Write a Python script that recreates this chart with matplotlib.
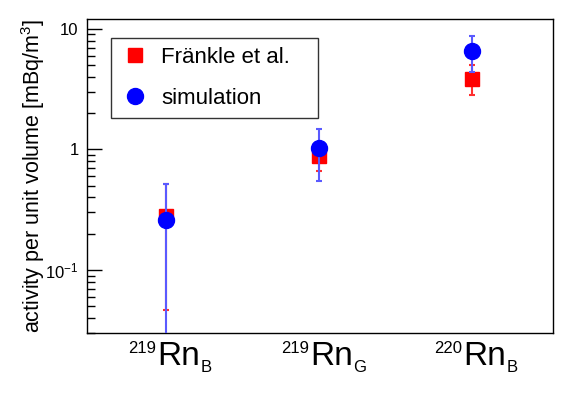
import matplotlib
matplotlib.use("Agg")
import matplotlib.pyplot as plt
import matplotlib.transforms as mtransforms
from matplotlib.lines import Line2D
import numpy as np

plt.rcParams['font.family'] = ['Liberation Sans', 'DejaVu Sans']
plt.rcParams['mathtext.fontset'] = 'custom'
plt.rcParams['mathtext.rm'] = 'Liberation Sans'
plt.rcParams['mathtext.it'] = 'Liberation Sans:italic'
plt.rcParams['mathtext.default'] = 'regular'

# ---- data ----
isotopes = ['219', '219', '220']
species = ['Rn', 'Rn', 'Rn']
subscripts = ['B', 'G', 'B']
positions = [1, 2, 3]

frankle_val = [0.28, 0.88, 3.87]
frankle_lo = [0.047, 0.66, 2.83]
frankle_hi = [0.52, 1.10, 4.99]

sim_val = [0.26, 1.03, 6.55]
sim_lo = [0.01, 0.546, 4.36]
sim_hi = [0.52, 1.47, 8.8]

ytick_vals = [0.1, 1, 10]
ytick_labels = [r'$10^{-1}$', '1', '10']

fig = plt.figure(figsize=(5.81, 3.93), dpi=100)
ax = fig.add_axes([87/581, 1-333/393, (553-87)/581, (333-19)/393])

ax.set_yscale('log')
ax.set_ylim(0.03, 12.1)
ax.set_xlim(0.484, 3.53)

fv = np.array(frankle_val); sv = np.array(sim_val)
ferr = [fv - np.array(frankle_lo), np.array(frankle_hi) - fv]
serr = [sv - np.array(sim_lo), np.array(sim_hi) - sv]

ax.errorbar(positions, fv, yerr=ferr, fmt='none', ecolor='#ff3030',
            elinewidth=1.5, capsize=2, capthick=1.5, zorder=2)
ax.plot(positions, fv, 's', color='#ff0000', markersize=9.5, zorder=3)
ax.errorbar(positions, sv, yerr=serr, fmt='none', ecolor='#5a5aff',
            elinewidth=1.5, capsize=2, capthick=1.5, zorder=4)
ax.plot(positions, sv, 'o', color='#0000ff', markersize=11.5, zorder=5)

# y axis ticks
ax.yaxis.set_major_locator(matplotlib.ticker.FixedLocator(ytick_vals))
ax.yaxis.set_major_formatter(matplotlib.ticker.FixedFormatter(ytick_labels))
ax.yaxis.set_minor_locator(matplotlib.ticker.LogLocator(base=10, subs=np.arange(2, 10)))
ax.yaxis.set_minor_formatter(matplotlib.ticker.NullFormatter())
ax.tick_params(axis='y', which='major', direction='in', length=10.8, width=1,
               labelsize=12, pad=6)
ax.tick_params(axis='y', which='minor', direction='in', length=5.5, width=1)
ax.set_xticks([])
for s in ax.spines.values():
    s.set_linewidth(1.0)
    s.set_color('black')

ax.set_ylabel('activity per unit volume [mBq/m$^{3}$]', fontsize=15.5)
ax.yaxis.set_label_coords(-0.086, 0.5)

# x category labels
fig.canvas.draw()
renderer = fig.canvas.get_renderer()
base = mtransforms.blended_transform_factory(ax.transData, ax.transAxes)
for x, iso, sp, sub in zip(positions, isotopes, species, subscripts):
    tr = base + mtransforms.ScaledTranslation(-9/100, -32/100, fig.dpi_scale_trans)
    t = ax.text(x, 0, sp, transform=tr, ha='left', va='baseline', fontsize=24,
                clip_on=False)
    bb = t.get_window_extent(renderer)
    w = bb.width
    tr_sup = base + mtransforms.ScaledTranslation(-10/100, -20/100, fig.dpi_scale_trans)
    ax.text(x, 0, iso, transform=tr_sup, ha='right', va='baseline', fontsize=12,
            clip_on=False)
    tr_sub = base + mtransforms.ScaledTranslation((-9 + w + 0.5)/100, -39/100, fig.dpi_scale_trans)
    ax.text(x, 0, sub, transform=tr_sub, ha='left', va='baseline', fontsize=12,
            clip_on=False)

# legend
handles = [Line2D([], [], ls='none', marker='s', color='#ff0000', markersize=9.5),
           Line2D([], [], ls='none', marker='o', color='#0000ff', markersize=11.5)]
leg = ax.legend(handles, ['Fränkle et al.', 'simulation'], loc='upper left',
                bbox_to_anchor=(0.0515, 0.688, 0.4442, 0.251), mode='expand',
                borderaxespad=0, fontsize=16, frameon=True, fancybox=False,
                edgecolor='black', handlelength=1.35, handletextpad=0.5,
                borderpad=0.4, labelspacing=0.9, numpoints=1)
leg.get_frame().set_linewidth(1.0)

fig.savefig('out.png', dpi=100)
